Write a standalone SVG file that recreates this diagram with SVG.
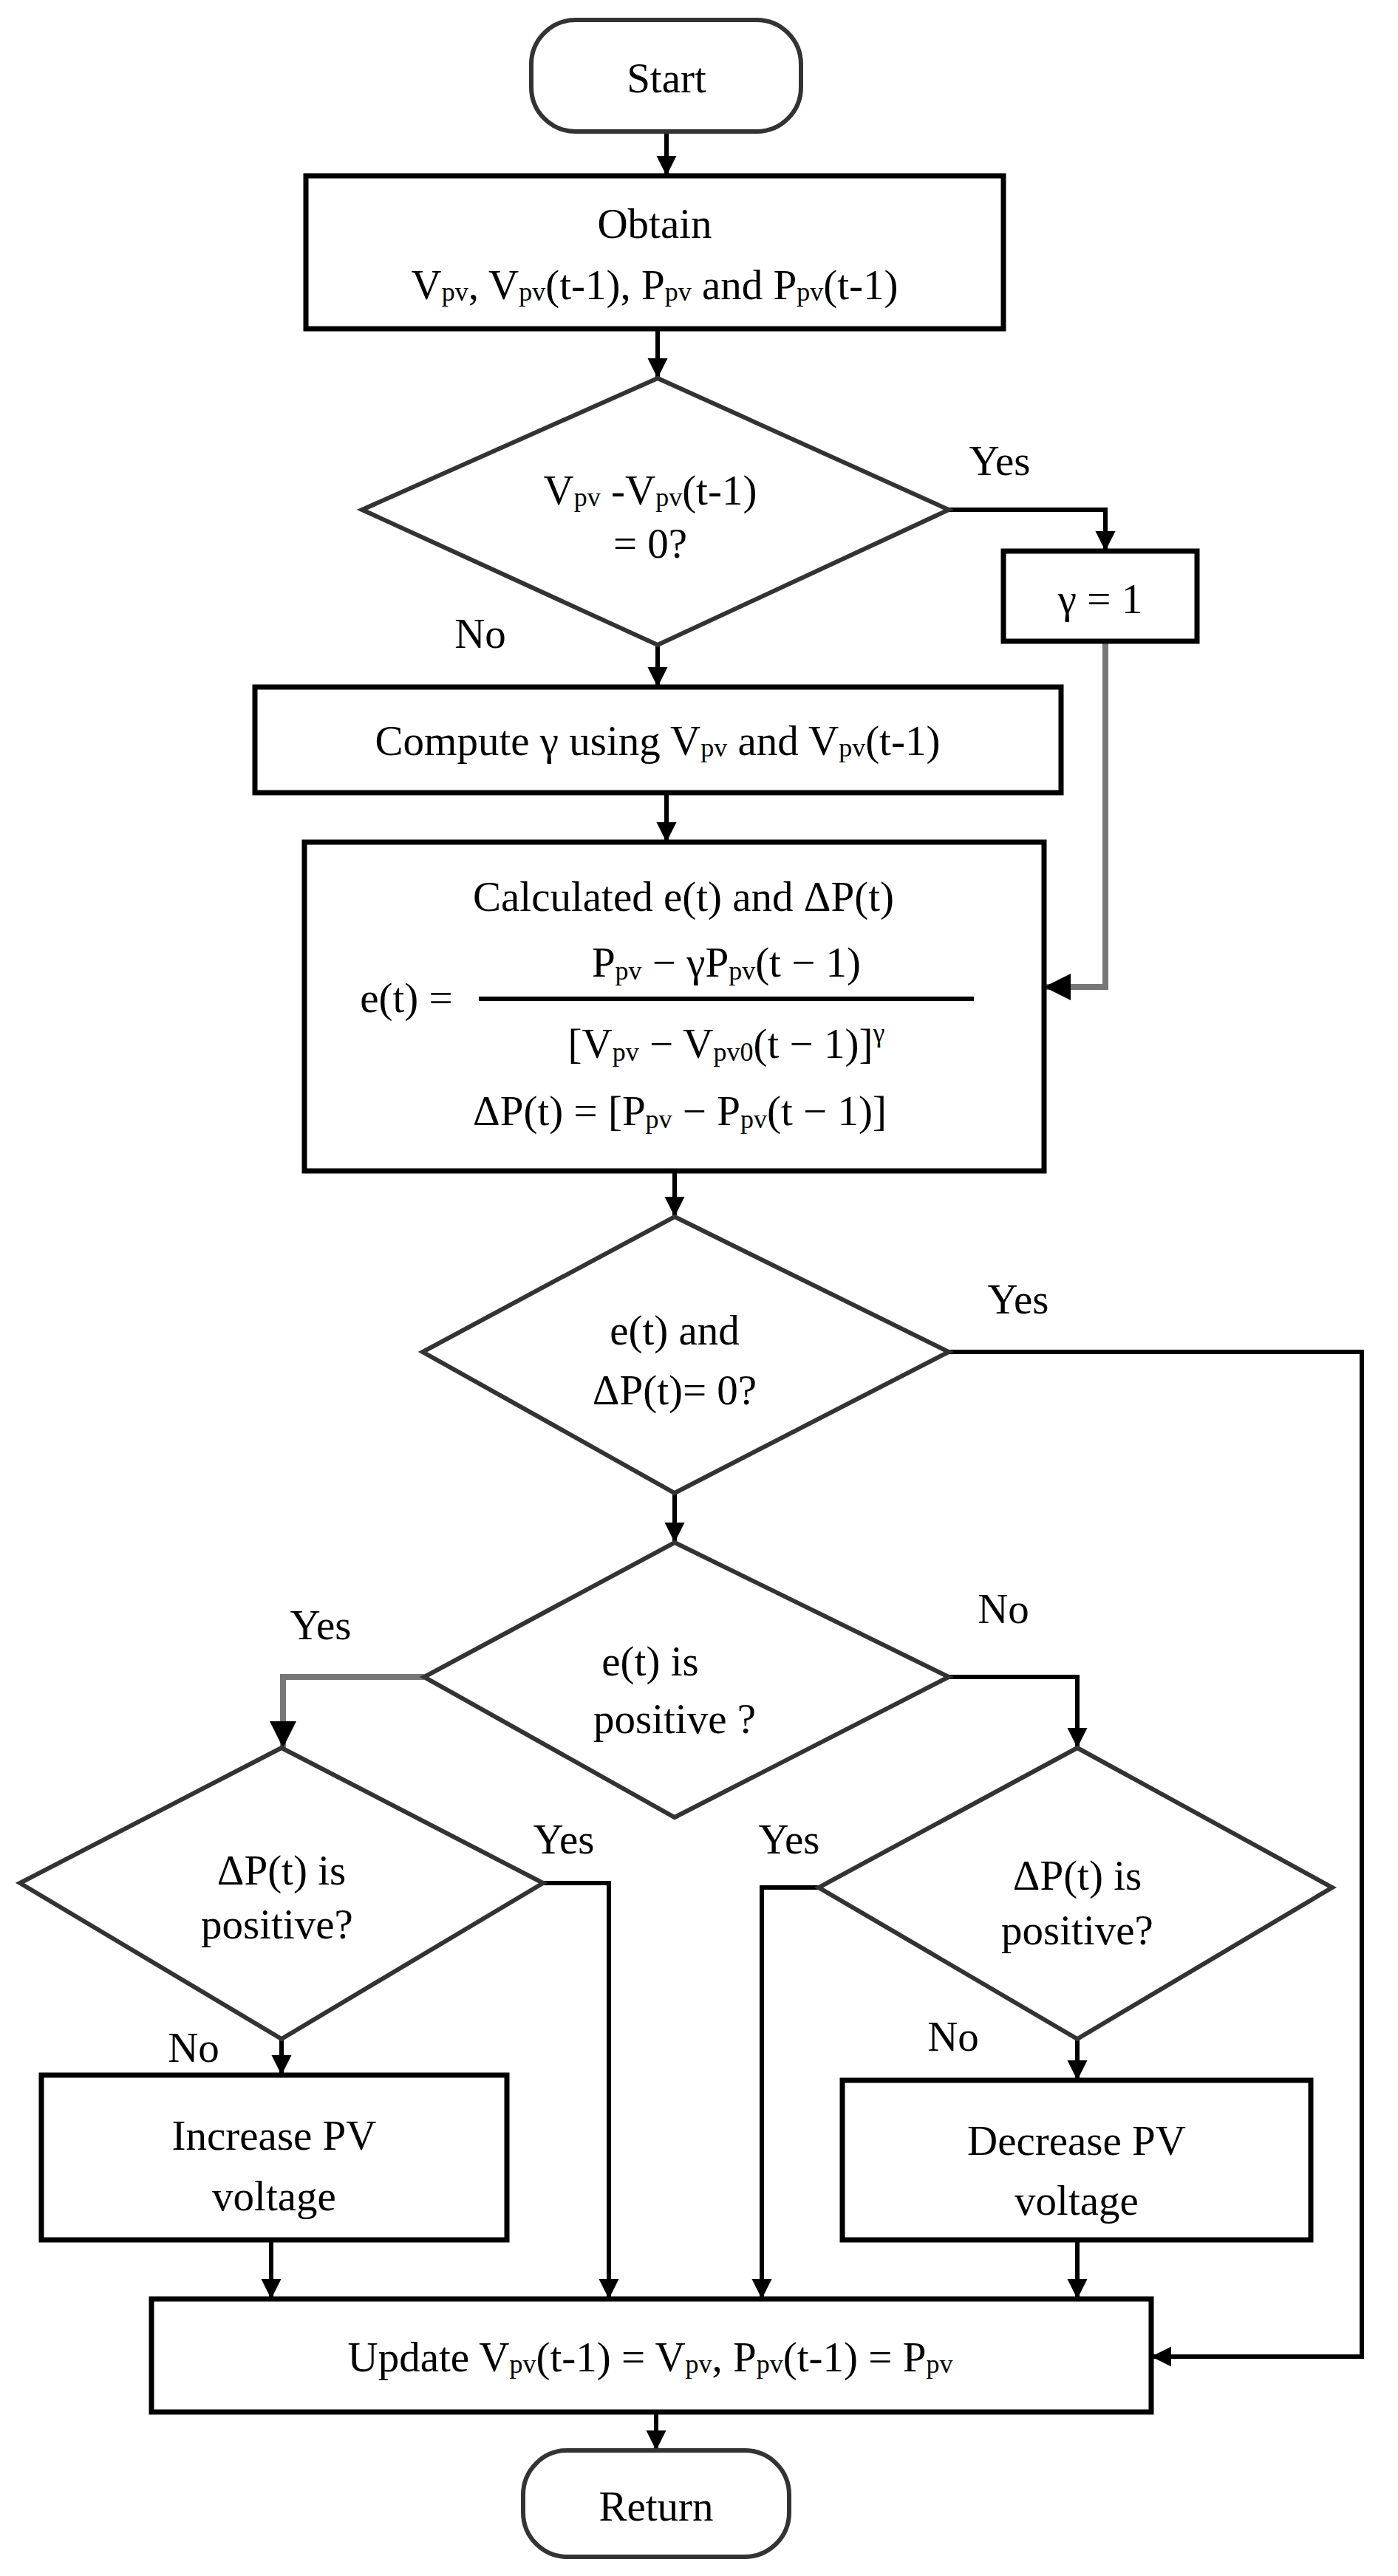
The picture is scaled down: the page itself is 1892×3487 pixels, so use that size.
<svg xmlns="http://www.w3.org/2000/svg" width="1892" height="3487" viewBox="0 0 1892 3487">
<style>
text{font-family:"Liberation Serif","DejaVu Serif",serif;font-size:57px;fill:#000;text-anchor:middle;dominant-baseline:central}
.b{fill:#fff;stroke:#000;stroke-width:7}
.d{fill:#fff;stroke:#333;stroke-width:6}
.l{fill:none;stroke:#000;stroke-width:6}
.g{fill:none;stroke:#777;stroke-width:8}
.s{font-size:36px}
</style>
<defs>
<marker id="a" viewBox="0 0 10 10" refX="10" refY="5" markerWidth="4.5" markerHeight="5.5" orient="auto" markerUnits="strokeWidth"><path d="M0,0L10,5L0,10z" fill="#000"/></marker>
</defs>
<g id="connectors">
<path class="l" d="M902,178V238" marker-end="url(#a)"/>
<path class="l" d="M890,445V512" marker-end="url(#a)"/>
<path class="l" d="M1284,690H1496V746" marker-end="url(#a)"/>
<path class="l" d="M890,873V930" marker-end="url(#a)"/>
<path class="g" d="M1496,868V1336H1413" marker-end="url(#a)"/>
<path class="l" d="M902,1073V1140" marker-end="url(#a)"/>
<path class="l" d="M913,1585V1647" marker-end="url(#a)"/>
<path class="l" d="M1284,1830H1843V3190H1558" marker-end="url(#a)"/>
<path class="l" d="M913,2021V2088" marker-end="url(#a)"/>
<path class="g" d="M574,2270H383V2366" marker-end="url(#a)"/>
<path class="l" d="M1284,2270H1458V2366" marker-end="url(#a)"/>
<path class="l" d="M735,2549H824V3112" marker-end="url(#a)"/>
<path class="l" d="M1108,2555H1031V3112" marker-end="url(#a)"/>
<path class="l" d="M381,2760V2809" marker-end="url(#a)"/>
<path class="l" d="M1458,2760V2816" marker-end="url(#a)"/>
<path class="l" d="M367,3032V3112" marker-end="url(#a)"/>
<path class="l" d="M1458,3032V3112" marker-end="url(#a)"/>
<path class="l" d="M888,3265V3317" marker-end="url(#a)"/>
</g>
<g id="start"><rect class="d" x="719" y="27" width="365" height="151" rx="60"/><text x="902" y="105">Start</text></g>
<g id="obtain"><rect class="b" x="414" y="238" width="944" height="207"/>
<text x="886" y="302">Obtain</text>
<text x="886" y="385">V<tspan class="s" dy="10">pv</tspan><tspan dy="-10">, V</tspan><tspan class="s" dy="10">pv</tspan><tspan dy="-10">(t-1), P</tspan><tspan class="s" dy="10">pv</tspan><tspan dy="-10"> and P</tspan><tspan class="s" dy="10">pv</tspan><tspan dy="-10">(t-1)</tspan></text></g>
<g id="dec1"><polygon class="d" points="890,512 1284,690 890,873 490,690"/>
<text x="880" y="663">V<tspan class="s" dy="10">pv</tspan><tspan dy="-10"> -V</tspan><tspan class="s" dy="10">pv</tspan><tspan dy="-10">(t-1)</tspan></text>
<text x="880" y="735">= 0?</text></g>
<text x="1353" y="623">Yes</text>
<text x="650" y="857">No</text>
<g id="gamma"><rect class="b" x="1358" y="746" width="262" height="122"/><text x="1489" y="810">γ = 1</text></g>
<g id="compute"><rect class="b" x="345" y="930" width="1091" height="143"/>
<text x="890" y="1002">Compute γ using V<tspan class="s" dy="10">pv</tspan><tspan dy="-10"> and V</tspan><tspan class="s" dy="10">pv</tspan><tspan dy="-10">(t-1)</tspan></text></g>
<g id="calc"><rect class="b" x="412" y="1140" width="1001" height="445"/>
<text x="925" y="1213">Calculated e(t) and ΔP(t)</text>
<text x="550" y="1350">e(t) =</text>
<text x="983" y="1302">P<tspan class="s" dy="12">pv</tspan><tspan dy="-12"> − γP</tspan><tspan class="s" dy="12">pv</tspan><tspan dy="-12">(t − 1)</tspan></text>
<line x1="648" y1="1352" x2="1318" y2="1352" stroke="#000" stroke-width="6"/>
<text x="983" y="1412">[V<tspan class="s" dy="12">pv</tspan><tspan dy="-12"> − V</tspan><tspan class="s" dy="12">pv0</tspan><tspan dy="-12">(t − 1)]</tspan><tspan class="s" dy="-14">γ</tspan></text>
<text x="920" y="1503">ΔP(t) = [P<tspan class="s" dy="12">pv</tspan><tspan dy="-12"> − P</tspan><tspan class="s" dy="12">pv</tspan><tspan dy="-12">(t − 1)]</tspan></text></g>
<g id="dec2"><polygon class="d" points="913,1647 1284,1830 913,2021 572,1830"/>
<text x="913" y="1800">e(t) and</text><text x="913" y="1881">ΔP(t)= 0?</text></g>
<text x="1378" y="1758">Yes</text>
<g id="dec3"><polygon class="d" points="913,2088 1284,2270 913,2460 574,2270"/>
<text x="880" y="2248">e(t) is</text><text x="913" y="2326">positive ?</text></g>
<text x="434" y="2199">Yes</text>
<text x="1358" y="2177">No</text>
<g id="dec4"><polygon class="d" points="381,2366 735,2549 381,2760 27,2549"/>
<text x="381" y="2531">ΔP(t) is</text><text x="375" y="2604">positive?</text></g>
<g id="dec5"><polygon class="d" points="1458,2366 1803,2555 1458,2760 1108,2555"/>
<text x="1458" y="2538">ΔP(t) is</text><text x="1458" y="2612">positive?</text></g>
<text x="763" y="2489">Yes</text>
<text x="1068" y="2489">Yes</text>
<text x="262" y="2771">No</text>
<text x="1290" y="2756">No</text>
<g id="increase"><rect class="b" x="56" y="2809" width="630" height="223"/>
<text x="371" y="2890">Increase PV</text><text x="371" y="2972">voltage</text></g>
<g id="decrease"><rect class="b" x="1140" y="2816" width="634" height="216"/>
<text x="1457" y="2897">Decrease PV</text><text x="1457" y="2978">voltage</text></g>
<g id="update"><rect class="b" x="205" y="3112" width="1353" height="153"/>
<text x="880" y="3190">Update V<tspan class="s" dy="10">pv</tspan><tspan dy="-10">(t-1) = V</tspan><tspan class="s" dy="10">pv</tspan><tspan dy="-10">, P</tspan><tspan class="s" dy="10">pv</tspan><tspan dy="-10">(t-1) = P</tspan><tspan class="s" dy="10">pv</tspan></text></g>
<g id="return"><rect class="d" x="708" y="3317" width="360" height="144" rx="60"/><text x="888" y="3392">Return</text></g>
</svg>
